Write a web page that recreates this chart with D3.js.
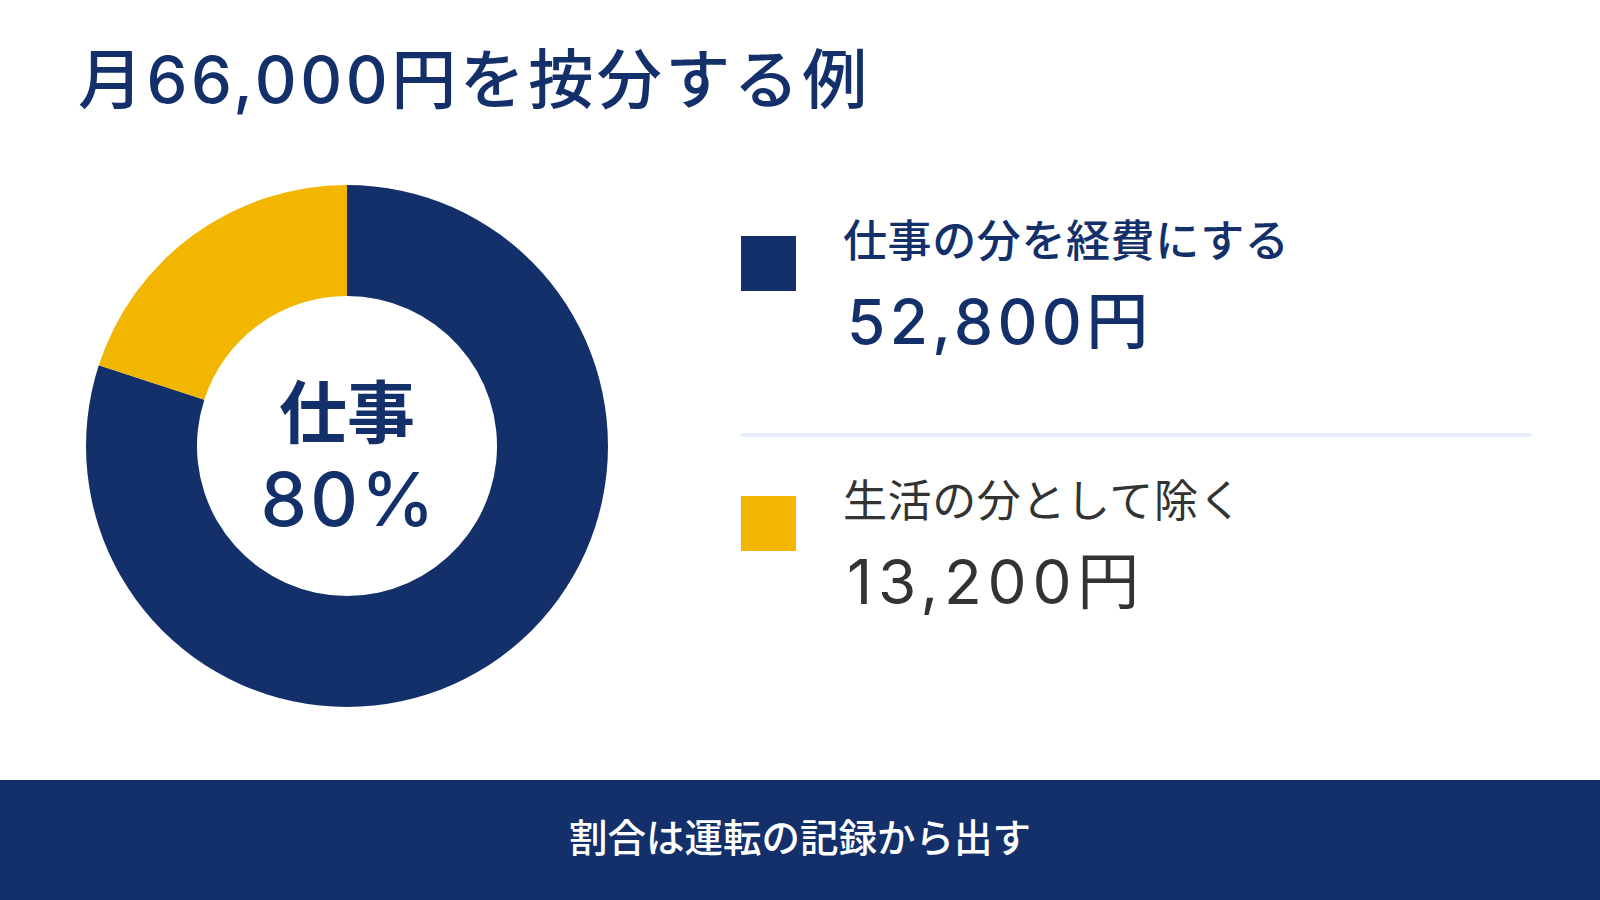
<!DOCTYPE html>
<html><head><meta charset="utf-8">
<script src="https://cdn.jsdelivr.net/npm/d3@7"></script>
<style>html,body{margin:0;padding:0;background:#fff;}svg{display:block;}</style>
</head><body>
<svg id="chart" width="1600" height="900"></svg>
<script>
const title = "月66,000円を按分する例";
const categories = ["仕事", "生活"];
const labels = ["仕事の分を経費にする", "生活の分として除く"];
const amounts = [52800, 13200];
const shares = [80, 20];
const centerLabel = ["仕事", "80%"];
const footer = "割合は運転の記録から出す";
const colors = ["#14306b", "#f2b500"];
const textColors = ["#14306b", "#333333"];

const W = 1600, H = 900;
const font = "Inter, 'Noto Sans CJK JP', sans-serif";
const svg = d3.select("#chart");

svg.append("text").attr("x", 78).attr("y", 103)
  .attr("font-family", font).attr("font-size", 65).attr("font-weight", 500)
  .attr("letter-spacing", 3.5)
  .attr("fill", "#14306b").text(title);

const cx = 347, cy = 446, R = 261, r = 150;
const pie = d3.pie().sort(null).value(d => d)(shares);
const arc = d3.arc().innerRadius(r).outerRadius(R);
const g = svg.append("g").attr("transform", `translate(${cx},${cy})`);
g.selectAll("path").data(pie).join("path")
  .attr("d", arc).attr("fill", (d, i) => colors[i]);

g.append("text").attr("x", 0).attr("y", -8).attr("text-anchor", "middle")
  .attr("font-family", font).attr("font-size", 68).attr("font-weight", 700)
  .attr("fill", "#14306b").text(centerLabel[0]);
g.append("text").attr("x", 2).attr("y", 80).attr("text-anchor", "middle")
  .attr("font-family", font).attr("font-size", 74).attr("font-weight", 500)
  .attr("letter-spacing", 3)
  .attr("fill", "#14306b").text(centerLabel[1]);

const fmt = d3.format(",");
const ly = [236, 496];
categories.forEach((c, i) => {
  const y0 = ly[i];
  svg.append("text").attr("x", 843).attr("y", y0 + 21)
    .attr("font-family", font).attr("font-size", 44).attr("font-weight", i === 0 ? 500 : 400)
    .attr("letter-spacing", 0.6)
    .attr("fill", textColors[i]).text(labels[i]);
  svg.append("text").attr("x", 847).attr("y", y0 + 108)
    .attr("font-family", font).attr("font-size", 62).attr("font-weight", i === 0 ? 500 : 400)
    .attr("letter-spacing", i === 0 ? 4.4 : 5.7)
    .attr("fill", textColors[i]).text(fmt(amounts[i]) + "円");
  svg.append("rect").attr("x", 741).attr("y", y0).attr("width", 55).attr("height", 55)
    .attr("fill", colors[i]);
});

svg.append("rect").attr("x", 741).attr("y", 433).attr("width", 790).attr("height", 4)
  .attr("fill", "#e6eefb");

svg.append("rect").attr("x", 0).attr("y", 780).attr("width", W).attr("height", H - 780)
  .attr("fill", "#14306b");
svg.append("text").attr("x", W / 2).attr("y", 852).attr("text-anchor", "middle")
  .attr("font-family", font).attr("font-size", 38.5).attr("font-weight", 500)
  .attr("fill", "#ffffff").text(footer);
</script>
</body></html>
